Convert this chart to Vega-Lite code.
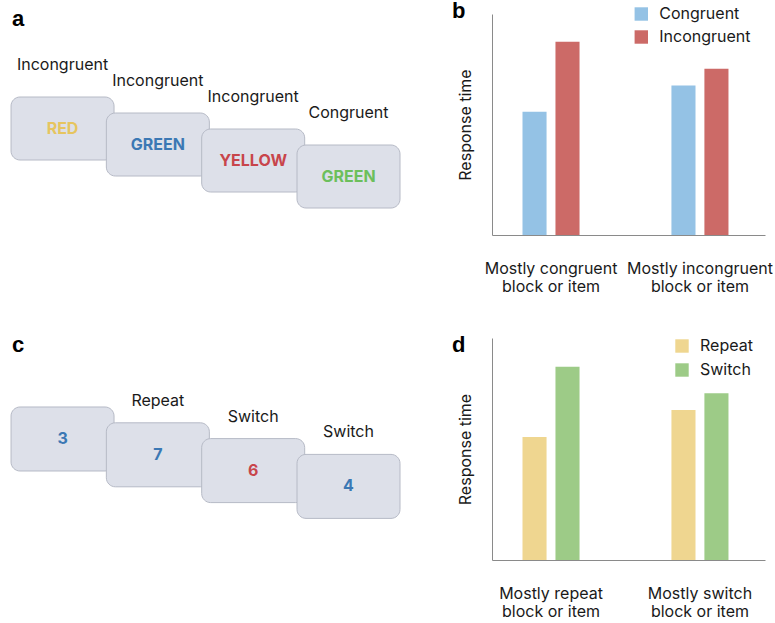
{
  "$schema": "https://vega.github.io/schema/vega-lite/v6.json",
  "padding": {"top": 0, "left": 0, "right": 0, "bottom": 0},
  "background": "white",
  "config": {"view": {"stroke": null}, "font": "Inter"},
  "columns": 2,
  "spacing": {"row": 103, "column": 72},
  "align": "each",
  "bounds": "flush",
  "resolve": {
    "scale": {"color": "independent", "x": "independent", "y": "independent", "xOffset": "independent"},
    "legend": {"color": "independent"},
    "axis": {"x": "independent", "y": "independent"}
  },
  "datasets": {
    "stroop": [
      {"trial": 1, "word": "RED", "ink": "yellow", "condition": "Incongruent"},
      {"trial": 2, "word": "GREEN", "ink": "blue", "condition": "Incongruent"},
      {"trial": 3, "word": "YELLOW", "ink": "red", "condition": "Incongruent"},
      {"trial": 4, "word": "GREEN", "ink": "green", "condition": "Congruent"}
    ],
    "taskswitch": [
      {"trial": 1, "digit": "3", "ink": "blue", "condition": null},
      {"trial": 2, "digit": "7", "ink": "blue", "condition": "Repeat"},
      {"trial": 3, "digit": "6", "ink": "red", "condition": "Switch"},
      {"trial": 4, "digit": "4", "ink": "blue", "condition": "Switch"}
    ],
    "congruency": [
      {"block": "Mostly congruent block or item", "trial": "Congruent", "rt": 55.8},
      {"block": "Mostly congruent block or item", "trial": "Incongruent", "rt": 87.5},
      {"block": "Mostly incongruent block or item", "trial": "Congruent", "rt": 67.6},
      {"block": "Mostly incongruent block or item", "trial": "Incongruent", "rt": 75.2}
    ],
    "switching": [
      {"block": "Mostly repeat block or item", "trial": "Repeat", "rt": 55.4},
      {"block": "Mostly repeat block or item", "trial": "Switch", "rt": 87.1},
      {"block": "Mostly switch block or item", "trial": "Repeat", "rt": 67.6},
      {"block": "Mostly switch block or item", "trial": "Switch", "rt": 75.1}
    ]
  },
  "concat": [
    {
      "width": 420,
      "height": 221,
      "title": {"text": "a", "anchor": "start", "frame": "group", "font": "Liberation Sans", "fontSize": 22, "fontWeight": "bold", "color": "#000000", "offset": -34, "dx": 12, "baseline": "alphabetic"},
      "data": {"name": "stroop"},
      "encoding": {
        "x": {"field": "trial", "type": "quantitative", "scale": {"domain": [0.344, 4.75], "nice": false, "zero": false}, "axis": null},
        "y": {"field": "trial", "type": "quantitative", "scale": {"domain": [-6.156, 7.656], "nice": false, "zero": false, "reverse": true}, "axis": null}
      },
      "layer": [
        {"mark": {"type": "rect", "width": 103, "height": 63, "cornerRadius": 9, "fill": "#dde0e9", "stroke": "#b6bac6", "strokeWidth": 1}},
        {"mark": {"type": "text", "font": "Inter", "fontSize": 16, "fontWeight": "bold"},
         "encoding": {"text": {"field": "word"},
           "color": {"field": "ink", "type": "nominal", "scale": {"domain": ["yellow", "blue", "red", "green"], "range": ["#e6c55f", "#3b78b4", "#c8454b", "#6cbf5c"]}, "legend": null}}},
        {"mark": {"type": "text", "font": "Inter", "fontSize": 16, "dy": -63.5, "color": "#1a1a1a"},
         "encoding": {"text": {"field": "condition"}}}
      ]
    },
    {
      "width": 273,
      "height": 221,
      "title": {"text": "b", "anchor": "start", "frame": "group", "font": "Liberation Sans", "fontSize": 22, "fontWeight": "bold", "color": "#000000", "offset": -34, "dx": -40, "baseline": "alphabetic"},
      "data": {"name": "congruency"},
      "mark": {"type": "bar"},
      "encoding": {
        "x": {"field": "block", "type": "nominal", "sort": null,
          "scale": {"paddingInner": 0.617, "paddingOuter": 0.225, "align": 0.455},
          "axis": {"title": null, "labelAngle": 0, "ticks": false, "domainColor": "#8a8a8a", "domainWidth": 1, "labelFont": "Inter", "labelFontSize": 16, "labelColor": "#1a1a1a", "labelPadding": 25, "labelLineHeight": 18.5, "labelExpr": "[slice(datum.label, 0, indexof(datum.label, ' block')), 'block or item']", "labelOverlap": false, "labelLimit": 0}},
        "xOffset": {"field": "trial", "type": "nominal", "scale": {"paddingInner": 0.27, "paddingOuter": 0}},
        "y": {"field": "rt", "type": "quantitative", "scale": {"domain": [0, 100], "nice": false},
          "axis": {"title": "Response time", "labels": false, "ticks": false, "grid": false, "domainColor": "#8a8a8a", "domainWidth": 1, "titleFont": "Inter", "titleFontSize": 16, "titleFontWeight": "normal", "titleColor": "#1a1a1a", "titlePadding": 19}},
        "color": {"field": "trial", "type": "nominal",
          "scale": {"domain": ["Congruent", "Incongruent"], "range": ["#94c2e5", "#cc6a67"]},
          "legend": {"title": null, "orient": "none", "legendX": 141.3, "legendY": -8, "direction": "vertical", "symbolType": "square", "symbolSize": 180, "symbolStrokeWidth": 0, "symbolOpacity": 1, "labelFont": "Inter", "labelFontSize": 16, "labelColor": "#1a1a1a", "labelOffset": 10, "rowPadding": 7, "padding": 0}}
      }
    },
    {
      "width": 420,
      "height": 222,
      "title": {"text": "c", "anchor": "start", "frame": "group", "font": "Liberation Sans", "fontSize": 22, "fontWeight": "bold", "color": "#000000", "offset": -36, "dx": 12, "baseline": "alphabetic"},
      "data": {"name": "taskswitch"},
      "encoding": {
        "x": {"field": "trial", "type": "quantitative", "scale": {"domain": [0.344, 4.75], "nice": false, "zero": false}, "axis": null},
        "y": {"field": "trial", "type": "quantitative", "scale": {"domain": [-5.392, 8.658], "nice": false, "zero": false, "reverse": true}, "axis": null}
      },
      "layer": [
        {"mark": {"type": "rect", "width": 103, "height": 64, "cornerRadius": 9, "fill": "#dde0e9", "stroke": "#b6bac6", "strokeWidth": 1}},
        {"mark": {"type": "text", "font": "Inter", "fontSize": 16, "fontWeight": "bold"},
         "encoding": {"text": {"field": "digit"},
           "color": {"field": "ink", "type": "nominal", "scale": {"domain": ["blue", "red"], "range": ["#3b78b4", "#c8454b"]}, "legend": null}}},
        {"transform": [{"filter": "datum.condition != null"}],
         "mark": {"type": "text", "font": "Inter", "fontSize": 16, "dy": -54, "color": "#1a1a1a"},
         "encoding": {"text": {"field": "condition"}}}
      ]
    },
    {
      "width": 273,
      "height": 222,
      "title": {"text": "d", "anchor": "start", "frame": "group", "font": "Liberation Sans", "fontSize": 22, "fontWeight": "bold", "color": "#000000", "offset": -36, "dx": -40, "baseline": "alphabetic"},
      "data": {"name": "switching"},
      "mark": {"type": "bar"},
      "encoding": {
        "x": {"field": "block", "type": "nominal", "sort": null,
          "scale": {"paddingInner": 0.617, "paddingOuter": 0.225, "align": 0.455},
          "axis": {"title": null, "labelAngle": 0, "ticks": false, "domainColor": "#8a8a8a", "domainWidth": 1, "labelFont": "Inter", "labelFontSize": 16, "labelColor": "#1a1a1a", "labelPadding": 25, "labelLineHeight": 18.5, "labelExpr": "[slice(datum.label, 0, indexof(datum.label, ' block')), 'block or item']", "labelOverlap": false, "labelLimit": 0}},
        "xOffset": {"field": "trial", "type": "nominal", "scale": {"paddingInner": 0.27, "paddingOuter": 0}},
        "y": {"field": "rt", "type": "quantitative", "scale": {"domain": [0, 100], "nice": false},
          "axis": {"title": "Response time", "labels": false, "ticks": false, "grid": false, "domainColor": "#8a8a8a", "domainWidth": 1, "titleFont": "Inter", "titleFontSize": 16, "titleFontWeight": "normal", "titleColor": "#1a1a1a", "titlePadding": 19}},
        "color": {"field": "trial", "type": "nominal",
          "scale": {"domain": ["Repeat", "Switch"], "range": ["#efd690", "#9dcb87"]},
          "legend": {"title": null, "orient": "none", "legendX": 182, "legendY": 0, "direction": "vertical", "symbolType": "square", "symbolSize": 180, "symbolStrokeWidth": 0, "symbolOpacity": 1, "labelFont": "Inter", "labelFontSize": 16, "labelColor": "#1a1a1a", "labelOffset": 10, "rowPadding": 8, "padding": 0}}
      }
    }
  ]
}
